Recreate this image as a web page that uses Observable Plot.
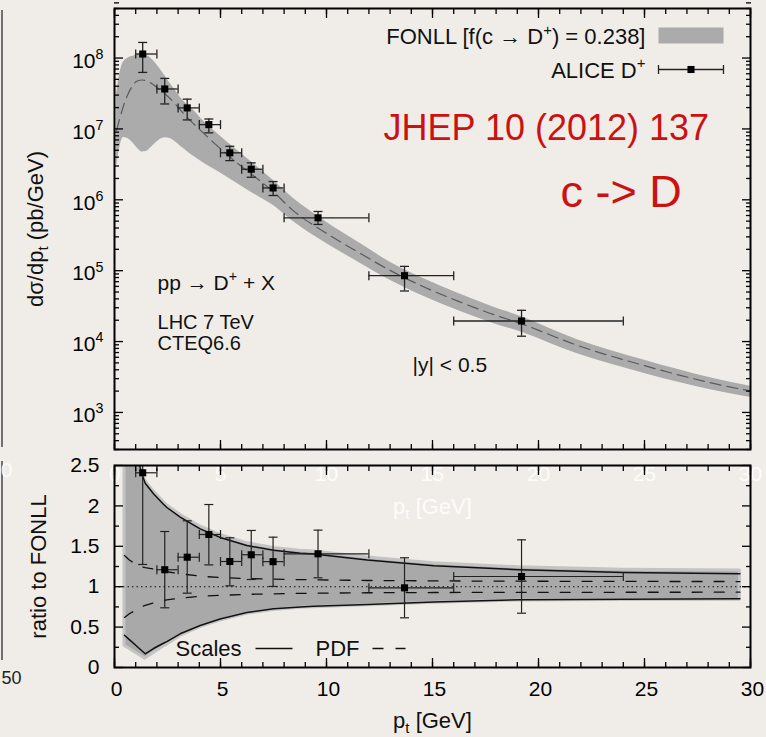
<!DOCTYPE html>
<html><head><meta charset="utf-8">
<script src="https://cdn.jsdelivr.net/npm/d3@7"></script>
<script src="https://cdn.jsdelivr.net/npm/@observablehq/plot@0.6"></script>
<style>
html,body{margin:0;padding:0;background:#f0ede8;}
#wrap{position:relative;width:766px;height:737px;overflow:hidden;background:#f0ede8;}
#top,#bot{position:absolute;left:0;}
#top{top:0}
#bot{top:440px}
.edge{position:absolute;left:1px;width:1.5px;background:#707070;}
</style></head><body>
<div id="wrap">
<div class="edge" style="top:10px;height:437px"></div>
<div class="edge" style="top:461px;height:199px"></div>
<div id="top"></div><div id="bot"></div>
</div>
<script>
// ---------- FONLL prediction (top panel) ----------
const fonllPt  = [0.1, 0.25, 0.42, 0.65, 0.9, 1.1, 1.3, 1.5, 1.7, 1.9, 2.15, 2.4, 2.65, 2.9, 3.1, 3.4, 3.75, 4.2, 4.7, 5.3, 5.9, 6.6, 7.5, 8.4, 9.9, 11.5, 13, 14.6, 16.2, 17.7, 19.2, 21.8, 25, 28.1, 30];
const fonllLo  = [2.88e6, 5.50e6, 7.59e6, 7.24e6, 6.17e6, 5.25e6, 4.73e6, 4.79e6, 5.37e6, 6.17e6, 7.08e6, 7.50e6, 7.24e6, 6.46e6, 5.75e6, 4.90e6, 4.07e6, 3.31e6, 2.69e6, 2.09e6, 1.62e6, 1.20e6, 8.32e5, 5.01e5, 2.51e5, 1.32e5, 7.33e4, 4.32e4, 2.75e4, 1.88e4, 1.35e4, 6.76e3, 3.55e3, 2.09e3, 1.62e3];
const fonllCen = [9.55e6, 1.41e7, 2.09e7, 3.16e7, 4.27e7, 4.79e7, 4.90e7, 4.79e7, 4.47e7, 4.07e7, 3.55e7, 3.09e7, 2.63e7, 2.19e7, 1.86e7, 1.48e7, 1.17e7, 8.71e6, 6.31e6, 4.37e6, 3.09e6, 2.14e6, 1.29e6, 7.16e5, 3.51e5, 1.82e5, 1.01e5, 5.89e4, 3.72e4, 2.51e4, 1.78e4, 8.91e3, 4.57e3, 2.63e3, 2.00e3];
const fonllHi  = [3.16e7, 6.03e7, 8.71e7, 1.00e8, 1.07e8, 1.12e8, 1.14e8, 1.10e8, 1.00e8, 8.71e7, 7.00e7, 5.50e7, 4.27e7, 3.39e7, 2.79e7, 2.24e7, 1.81e7, 1.29e7, 9.46e6, 6.61e6, 4.68e6, 3.16e6, 1.87e6, 1.07e6, 5.07e5, 2.51e5, 1.32e5, 7.67e4, 4.79e4, 3.20e4, 2.24e4, 1.07e4, 5.43e3, 3.09e3, 2.34e3];

// ---------- ALICE D+ data ----------
const alicePt    = [1.33, 2.37, 3.43, 4.45, 5.44, 6.45, 7.48, 9.6, 13.68, 19.2];
const binLo      = [1, 2, 3, 4, 5, 6, 7, 8, 12, 16];
const binHi      = [2, 3, 4, 5, 6, 7, 8, 12, 16, 24];
const aliceVal   = [1.14e8, 3.66e7, 1.98e7, 1.15e7, 4.6e6, 2.7e6, 1.47e6, 5.57e5, 8.5e4, 1.95e4];
const aliceErrLo = [6.27e7, 2.25e7, 1.34e7, 8.8e6, 3.57e6, 2.08e6, 1.15e6, 4.49e5, 5.17e4, 1.19e4];
const aliceErrHi = [1.66e8, 5.16e7, 2.63e7, 1.38e7, 5.69e6, 3.32e6, 1.81e6, 6.84e5, 1.15e5, 2.76e4];

// ---------- ratio to FONLL (bottom panel) ----------
const ratioVal   = [2.41, 1.21, 1.365, 1.646, 1.312, 1.395, 1.31, 1.407, 0.986, 1.126];
const ratioErrLo = [1.275, 0.739, 0.92, 1.27, 1.011, 1.089, 1.003, 1.11, 0.615, 0.672];
const ratioErrHi = [3.4, 1.683, 1.815, 2.017, 1.605, 1.696, 1.613, 1.70, 1.358, 1.58];

const ratioPt  = [0.47, 0.7, 1.0, 1.25, 1.45, 1.84, 2.31, 2.47, 3.1, 4.04, 4.98, 6.24, 7.5, 8.76, 9.39, 11.92, 15.06, 19.1, 24, 29.5];
const bandHi   = [5.0, 3.6, 2.78, 2.45, 2.31, 2.18, 2.05, 2.01, 1.89, 1.745, 1.64, 1.54, 1.478, 1.445, 1.435, 1.36, 1.29, 1.24, 1.21, 1.20];
const bandLo   = [0.27, 0.232, 0.183, 0.143, 0.11, 0.18, 0.26, 0.28, 0.39, 0.50, 0.58, 0.665, 0.712, 0.738, 0.745, 0.77, 0.80, 0.828, 0.835, 0.84];
const scalesHi = [5.0, 3.6, 2.75, 2.42, 2.28, 2.15, 2.02, 1.98, 1.86, 1.716, 1.61, 1.51, 1.45, 1.415, 1.405, 1.33, 1.26, 1.21, 1.176, 1.16];
const scalesLo = [0.40, 0.345, 0.275, 0.217, 0.17, 0.235, 0.30, 0.32, 0.417, 0.52, 0.60, 0.68, 0.726, 0.75, 0.759, 0.78, 0.81, 0.838, 0.845, 0.85];
const pdfHi    = [1.386, 1.33, 1.28, 1.25, 1.235, 1.22, 1.195, 1.185, 1.16, 1.13, 1.113, 1.10, 1.093, 1.088, 1.085, 1.077, 1.072, 1.068, 1.065, 1.064];
const pdfLo    = [0.62, 0.665, 0.71, 0.745, 0.77, 0.80, 0.83, 0.838, 0.858, 0.882, 0.893, 0.905, 0.912, 0.917, 0.919, 0.925, 0.928, 0.93, 0.931, 0.932];

// ---------- ticks & labels ----------
const xMajor = [0, 5, 10, 15, 20, 25, 30];
const xMinor = d3.range(0, 31, 1);
const yDecades = [1e3, 1e4, 1e5, 1e6, 1e7, 1e8];
const yMinor = [1e2, 1e3, 1e4, 1e5, 1e6, 1e7, 1e8].flatMap(d => [2,3,4,5,6,7,8,9].map(m => m * d));
const rMajor = [0, 0.5, 1, 1.5, 2, 2.5];
const rMinor = [0.25, 0.75, 1.25, 1.75, 2.25];

const yTitleTop = "dσ/dp_{t} (pb/GeV)";
const yTitleBot = "ratio to FONLL";
const xTitle = "p_{t} [GeV]";
const legendFonll = "FONLL [f(c → D^{+}) = 0.238]";
const legendAlice = "ALICE D^{+}";
const procLabel = "pp → D^{+} + X";
const infoLabels = ["LHC 7 TeV", "CTEQ6.6"];
const rapLabel = "|y| < 0.5";
const refLabel = "JHEP 10 (2012) 137";
const fragLabel = "c -> D";
const legendScales = "Scales";
const legendPdf = "PDF";
const ghostTicks = ["0", "5", "10", "15", "20", "25", "30"];

// ---------- tables ----------
const fonll = fonllPt.map((pt, i) => ({pt, lo: fonllLo[i], cen: fonllCen[i], hi: fonllHi[i]}));
const alice = alicePt.map((pt, i) => ({
  pt, xlo: binLo[i], xhi: binHi[i],
  val: aliceVal[i], elo: aliceErrLo[i], ehi: aliceErrHi[i],
  rval: ratioVal[i], rlo: ratioErrLo[i], rhi: ratioErrHi[i]
}));
const ratio = ratioPt.map((pt, i) => ({pt, blo: bandLo[i], bhi: bandHi[i], slo: scalesLo[i], shi: scalesHi[i], plo: pdfLo[i], phi: pdfHi[i]}));

// ---------- symbols ----------
const rad = s => Math.sqrt(s / Math.PI);
const hcap = {draw(c, s) { const r = rad(s); c.moveTo(-r, 0); c.lineTo(r, 0); }};
const vcap = {draw(c, s) { const r = rad(s); c.moveTo(0, -r); c.lineTo(0, r); }};
const swatchRect = {draw(c) { c.rect(-32.5, -8, 65, 16); }};
const swatchBar = {draw(c) { c.moveTo(-32.5, 0); c.lineTo(32.5, 0); c.moveTo(-32.5, -4.5); c.lineTo(-32.5, 4.5); c.moveTo(32.5, -4.5); c.lineTo(32.5, 4.5); }};
const seg = w => ({draw(c) { c.moveTo(-w / 2, 0); c.lineTo(w / 2, 0); }});

const FONT = '"Liberation Sans", Arial, Helvetica, sans-serif';
const ink = "#222";
const blank = () => "";

function frameTicksX(major, minor) {
  return ["bottom", "top"].flatMap(a => [
    Plot.axisX({anchor: a, ticks: major, tickSize: -9, tickFormat: blank, label: null, strokeWidth: 1.3}),
    Plot.axisX({anchor: a, ticks: minor, tickSize: -5, tickFormat: blank, label: null, strokeWidth: 1.3})
  ]);
}
function frameTicksY(major, minor) {
  return ["left", "right"].flatMap(a => [
    Plot.axisY({anchor: a, ticks: major, tickSize: -9, tickFormat: blank, label: null, strokeWidth: 1.3}),
    Plot.axisY({anchor: a, ticks: minor, tickSize: -5, tickFormat: blank, label: null, strokeWidth: 1.3})
  ]);
}

// ---------- top panel ----------
const topChart = Plot.plot({
  width: 766, height: 455,
  marginLeft: 114, marginRight: 16, marginTop: 8, marginBottom: 6,
  style: {fontFamily: FONT, fontSize: "21px", background: "transparent", color: "black"},
  x: {domain: [0, 30], label: null},
  y: {type: "log", domain: [300, 5e8], label: null},
  marks: [
    Plot.areaY(fonll, {x: "pt", y1: "lo", y2: "hi", fill: "#ababab", curve: "monotone-x"}),
    Plot.line(fonll, {x: "pt", y: "cen", stroke: "#5a5a5a", strokeWidth: 1.2, strokeDasharray: "11,6", curve: "monotone-x"}),
    Plot.ruleX(alice, {x: "pt", y1: "elo", y2: "ehi", stroke: ink, strokeWidth: 1.3}),
    Plot.ruleY(alice, {y: "val", x1: "xlo", x2: "xhi", stroke: ink, strokeWidth: 1.3}),
    Plot.dot(alice, {x: "pt", y: "elo", symbol: hcap, r: 4.5, fill: "none", stroke: ink, strokeWidth: 1.3}),
    Plot.dot(alice, {x: "pt", y: "ehi", symbol: hcap, r: 4.5, fill: "none", stroke: ink, strokeWidth: 1.3}),
    Plot.dot(alice, {x: "xlo", y: "val", symbol: vcap, r: 4.5, fill: "none", stroke: ink, strokeWidth: 1.3}),
    Plot.dot(alice, {x: "xhi", y: "val", symbol: vcap, r: 4.5, fill: "none", stroke: ink, strokeWidth: 1.3}),
    Plot.dot(alice, {x: "pt", y: "val", symbol: "square", r: 4, fill: "black", stroke: "none"}),
    // annotations
    Plot.text([procLabel], {x: 2.03, y: 6.6e4, text: d => d, textAnchor: "start", lineAnchor: "middle", fontSize: 21, fill: "#111"}),
    Plot.text([infoLabels[0]], {x: 2.03, y: 1.87e4, text: d => d, textAnchor: "start", lineAnchor: "middle", fontSize: 20, fill: "#111"}),
    Plot.text([infoLabels[1]], {x: 2.03, y: 9.5e3, text: d => d, textAnchor: "start", lineAnchor: "middle", fontSize: 20, fill: "#111"}),
    Plot.text([rapLabel], {x: 14.06, y: 4.6e3, text: d => d, textAnchor: "start", lineAnchor: "middle", fontSize: 21, fill: "#111"}),
    Plot.text([refLabel], {x: 12.69, y: 1.0e7, text: d => d, textAnchor: "start", lineAnchor: "middle", fontSize: 36, fill: "#cc1111"}),
    Plot.text([fragLabel], {x: 21.04, y: 1.27e6, text: d => d, textAnchor: "start", lineAnchor: "middle", fontSize: 45, fill: "#cc1111"}),
    // legend
    Plot.text([legendFonll], {frameAnchor: "top-right", dx: -105, dy: 28.7, text: d => d, textAnchor: "end", lineAnchor: "middle", fontSize: 22, fill: "#111"}),
    Plot.dot([legendFonll], {frameAnchor: "top-right", dx: -59.5, dy: 27, symbol: swatchRect, r: 1, fill: "#ababab", stroke: "none"}),
    Plot.text([legendAlice], {frameAnchor: "top-right", dx: -105, dy: 62, text: d => d, textAnchor: "end", lineAnchor: "middle", fontSize: 22, fill: "#111"}),
    Plot.dot([legendAlice], {frameAnchor: "top-right", dx: -59.5, dy: 61, symbol: swatchBar, r: 1, fill: "none", stroke: ink, strokeWidth: 1.3}),
    Plot.dot([legendAlice], {frameAnchor: "top-right", dx: -59.5, dy: 61, symbol: "square", r: 4, fill: "black", stroke: "none"}),
    // y title
    Plot.text([yTitleTop], {frameAnchor: "left", dx: -79, rotate: -90, text: d => d, textAnchor: "middle", lineAnchor: "middle", fontSize: 22, fill: "#111"}),
    // axes
    Plot.axisY({anchor: "left", ticks: yDecades, tickSize: 0, tickPadding: 11, dy: 3, fontSize: 21,
      tickFormat: d => `10^{${Math.round(Math.log10(d))}}`, label: null}),
    ...frameTicksY(yDecades, yMinor),
    ...frameTicksX(xMajor, xMinor),
    Plot.frame({stroke: "black", strokeWidth: 2})
  ]
});

// ---------- bottom panel ----------
const botChart = Plot.plot({
  width: 766, height: 297,
  marginLeft: 114, marginRight: 16, marginTop: 25, marginBottom: 70,
  style: {fontFamily: FONT, fontSize: "21px", background: "transparent", color: "black"},
  x: {domain: [0, 30], label: null},
  y: {domain: [0, 2.5], label: null},
  marks: [
    Plot.areaY(ratio, {x: "pt", y1: "blo", y2: "bhi", fill: "#a9a9a9", stroke: "#c4c4c4", strokeWidth: 3, clip: true}),
    Plot.line(ratio, {x: "pt", y: "shi", stroke: "#111", strokeWidth: 1.5, clip: true}),
    Plot.line(ratio, {x: "pt", y: "slo", stroke: "#111", strokeWidth: 1.5, clip: true}),
    Plot.line(ratio, {x: "pt", y: "phi", stroke: "#111", strokeWidth: 1.3, strokeDasharray: "10,12", clip: true}),
    Plot.line(ratio, {x: "pt", y: "plo", stroke: "#111", strokeWidth: 1.3, strokeDasharray: "10,12", clip: true}),
    Plot.ruleY([1], {stroke: "#111", strokeWidth: 1.1, strokeDasharray: "1.5,3"}),
    // ghost labels from the slide underneath
    Plot.text(ghostTicks, {x: (d, i) => xMajor[i], frameAnchor: "top", dy: 9, text: d => d, lineAnchor: "middle", fontSize: 21, fill: "white", fillOpacity: 0.85}),
    Plot.text([xTitle], {x: 15, frameAnchor: "top", dy: 41, text: d => d, lineAnchor: "middle", fontSize: 22, fill: "white", fillOpacity: 0.85}),
    Plot.text(["0"], {frameAnchor: "top-left", dx: -108, dy: 5, text: d => d, textAnchor: "middle", lineAnchor: "middle", fontSize: 21, fill: "white", fillOpacity: 0.85}),
    Plot.text(["50"], {frameAnchor: "bottom-left", dx: -113, dy: 11, text: d => d, textAnchor: "start", lineAnchor: "middle", fontSize: 18, fill: "#222"}),
    // data
    Plot.ruleX(alice, {x: "pt", y1: "rlo", y2: "rhi", stroke: ink, strokeWidth: 1.2, clip: true}),
    Plot.ruleY(alice, {y: "rval", x1: "xlo", x2: "xhi", stroke: ink, strokeWidth: 1.2, clip: true}),
    Plot.dot(alice, {x: "pt", y: "rlo", symbol: hcap, r: 4.5, fill: "none", stroke: ink, strokeWidth: 1.2, clip: true}),
    Plot.dot(alice, {x: "pt", y: "rhi", symbol: hcap, r: 4.5, fill: "none", stroke: ink, strokeWidth: 1.2, clip: true}),
    Plot.dot(alice, {x: "xlo", y: "rval", symbol: vcap, r: 4.5, fill: "none", stroke: ink, strokeWidth: 1.2, clip: true}),
    Plot.dot(alice, {x: "xhi", y: "rval", symbol: vcap, r: 4.5, fill: "none", stroke: ink, strokeWidth: 1.2, clip: true}),
    Plot.dot(alice, {x: "pt", y: "rval", symbol: "square", r: 4, fill: "black", stroke: "none", clip: true}),
    // legend
    Plot.text([legendScales], {frameAnchor: "bottom-left", dx: 61, dy: -19, text: d => d, textAnchor: "start", lineAnchor: "middle", fontSize: 22, fill: "#111"}),
    Plot.dot([legendScales], {frameAnchor: "bottom-left", dx: 159.5, dy: -19, symbol: seg(37), r: 1, fill: "none", stroke: "#111", strokeWidth: 1.3}),
    Plot.text([legendPdf], {frameAnchor: "bottom-left", dx: 201, dy: -19, text: d => d, textAnchor: "start", lineAnchor: "middle", fontSize: 22, fill: "#111"}),
    Plot.dot([legendPdf], {frameAnchor: "bottom-left", dx: 274.5, dy: -19, symbol: seg(33), r: 1, fill: "none", stroke: "#111", strokeWidth: 1.3, strokeDasharray: "11,12"}),
    // titles
    Plot.text([yTitleBot], {frameAnchor: "left", dx: -75.5, rotate: -90, text: d => d, textAnchor: "middle", lineAnchor: "middle", fontSize: 22, fill: "#111"}),
    Plot.text([xTitle], {frameAnchor: "bottom", dy: 53, text: d => d, textAnchor: "middle", lineAnchor: "middle", fontSize: 22, fill: "#111"}),
    // axes
    Plot.axisY({anchor: "left", ticks: rMajor, tickSize: 0, tickPadding: 15, fontSize: 21, tickFormat: d3.format("~g"), label: null}),
    Plot.axisX({anchor: "bottom", ticks: xMajor, tickSize: 0, tickPadding: 14, dx: 2, fontSize: 21, label: null}),
    ...frameTicksY(rMajor, rMinor),
    ...frameTicksX(xMajor, xMinor),
    Plot.frame({stroke: "black", strokeWidth: 2})
  ]
});

document.getElementById("top").append(topChart);
document.getElementById("bot").append(botChart);

// superscript / subscript rendering for text marked with ^{..} and _{..}
function richify(root) {
  const NS = "http://www.w3.org/2000/svg";
  root.querySelectorAll("text").forEach(t => {
    const s = t.textContent;
    if (!/[\^_]\{/.test(s) || t.querySelector("tspan")) return;
    const fs = parseFloat(getComputedStyle(t).fontSize) || 20;
    while (t.firstChild) t.removeChild(t.firstChild);
    const re = /([\^_])\{([^}]*)\}/g;
    let last = 0, m, pend = 0;
    const mk = (txt, dy, small) => {
      const sp = document.createElementNS(NS, "tspan");
      sp.textContent = txt;
      if (dy) sp.setAttribute("dy", dy.toFixed(2));
      if (small) sp.setAttribute("font-size", (fs * 0.68).toFixed(1));
      t.appendChild(sp);
    };
    while ((m = re.exec(s))) {
      if (m.index > last) { mk(s.slice(last, m.index), pend, false); pend = 0; }
      const sh = m[1] === "^" ? -0.42 * fs : 0.24 * fs;
      mk(m[2], pend + sh, true);
      pend = -sh;
      last = re.lastIndex;
    }
    if (last < s.length) mk(s.slice(last), pend, false);
  });
}
richify(topChart);
richify(botChart);
</script>
</body></html>
